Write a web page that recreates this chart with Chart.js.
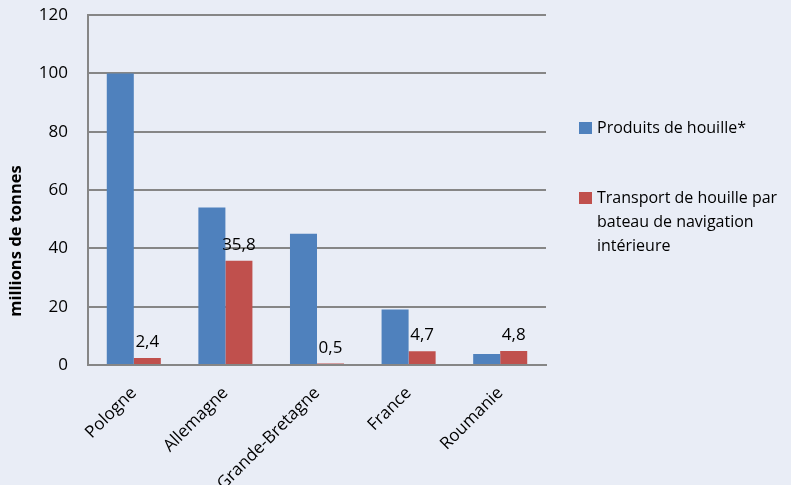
<!DOCTYPE html>
<html>
<head>
<meta charset="utf-8">
<script src="https://cdn.jsdelivr.net/npm/chart.js@4/dist/chart.umd.min.js"></script>
<style>
  body { margin: 0; background: #E9EDF6; font-family: "Open Sans", sans-serif; }
  #wrap { position: relative; width: 791px; height: 485px; }
  #legend { position: absolute; left: 579px; top: 0; color: #000; font-size: 16px; }
  .item { position: absolute; left: 0; width: 212px; }
  .box { position: absolute; left: 0; width: 13px; height: 12px; }
  .txt { position: absolute; left: 18px; line-height: 24px; white-space: nowrap; }
</style>
</head>
<body>
<div id="wrap">
  <canvas id="chart" width="791" height="485"></canvas>
  <div id="legend"></div>
</div>
<script>
// Country categories
const countries = ["Pologne", "Allemagne", "Grande-Bretagne", "France", "Roumanie"];

// Production of hard coal (millions of tonnes)
const productionValues = [100, 54, 45, 19, 3.8];

// Hard coal transported by inland waterway (millions of tonnes)
const transportValues = [2.4, 35.8, 0.5, 4.7, 4.8];

const seriesLabels = [
  "Produits de houille*",
  "Transport de houille par bateau de navigation intérieure",
];
// legend text as shown, broken over lines
const legendLines = [
  ["Produits de houille*"],
  ["Transport de houille par", "bateau de navigation", "intérieure"],
];

const yTicks = [0, 20, 40, 60, 80, 100, 120];
const yTitle = "millions de tonnes";

const blue = "#4F81BD";
const red = "#C0504D";
const gridGray = "#868686";

// Draw the values above the red bars, with a comma as decimal mark
const valueLabels = {
  id: "valueLabels",
  afterDatasetsDraw(chart) {
    const ctx = chart.ctx;
    const meta = chart.getDatasetMeta(1);
    ctx.save();
    ctx.font = '17px "Open Sans"';
    ctx.fillStyle = "#000";
    ctx.textAlign = "center";
    ctx.textBaseline = "alphabetic";
    meta.data.forEach((bar, i) => {
      const text = String(transportValues[i]).replace(".", ",");
      ctx.fillText(text, bar.x, bar.y - 11);
    });
    ctx.restore();
  },
};

// Y axis title, centred on the whole picture height like the original
const axisTitle = {
  id: "axisTitle",
  afterDraw(chart) {
    const ctx = chart.ctx;
    ctx.save();
    ctx.translate(16, 241);
    ctx.rotate(-Math.PI / 2);
    ctx.font = 'bold 16.5px "Open Sans"';
    ctx.fillStyle = "#000";
    ctx.textAlign = "center";
    ctx.textBaseline = "middle";
    ctx.fillText(yTitle, 0, 0);
    ctx.restore();
  },
};

const ctx = document.getElementById("chart").getContext("2d");
const chart = new Chart(ctx, {
  type: "bar",
  data: {
    labels: countries,
    datasets: [
      {
        label: seriesLabels[0],
        data: productionValues,
        backgroundColor: blue,
        categoryPercentage: 0.59,
        barPercentage: 1,
      },
      {
        label: seriesLabels[1],
        data: transportValues,
        backgroundColor: red,
        categoryPercentage: 0.59,
        barPercentage: 1,
      },
    ],
  },
  options: {
    responsive: false,
    animation: false,
    layout: { padding: { left: 0, right: 245, top: 0, bottom: 0 } },
    plugins: {
      legend: { display: false },
      tooltip: { enabled: false },
    },
    scales: {
      x: {
        grid: { display: false },
        border: { display: true, color: gridGray, width: 2 },
        ticks: {
          color: "#000",
          font: { family: "Open Sans", size: 17 },
          minRotation: 45,
          maxRotation: 45,
          padding: 10,
        },
        afterFit(scale) {
          scale.height = 120;
        },
      },
      y: {
        min: 0,
        max: 120,
        afterBuildTicks(scale) {
          scale.ticks = yTicks.map((v) => ({ value: v }));
        },
        // invisible tick marks push the labels away from the axis
        grid: {
          color: gridGray,
          lineWidth: 2,
          drawTicks: true,
          tickLength: 15,
          tickColor: "rgba(0,0,0,0)",
        },
        border: { display: true, color: gridGray, width: 2 },
        ticks: {
          color: "#000",
          font: { family: "Open Sans", size: 17 },
          padding: 5,
        },
        afterFit(scale) {
          scale.width = 88;
        },
      },
    },
  },
  plugins: [valueLabels, axisTitle],
});

// HTML legend on the right
const legendEl = document.getElementById("legend");
const legendTops = [115, 185];
chart.data.datasets.forEach((ds, i) => {
  const item = document.createElement("div");
  item.className = "item";
  item.style.top = legendTops[i] + "px";
  const box = document.createElement("div");
  box.className = "box";
  box.style.background = ds.backgroundColor;
  box.style.top = "7px";
  const txt = document.createElement("div");
  txt.className = "txt";
  txt.innerHTML = legendLines[i].join("<br>");
  item.appendChild(box);
  item.appendChild(txt);
  legendEl.appendChild(item);
});
</script>
</body>
</html>
